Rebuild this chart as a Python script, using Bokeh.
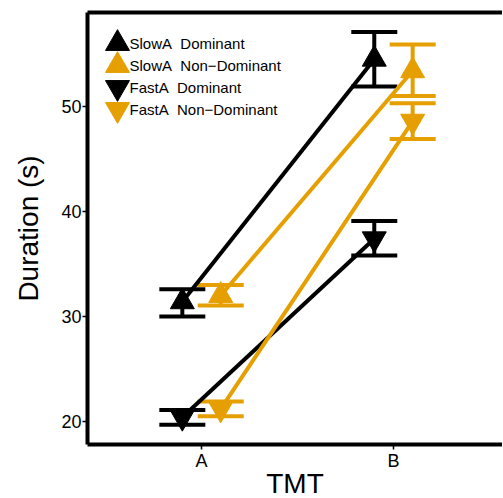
from bokeh.plotting import figure
from bokeh.models import (ColumnDataSource, Whisker, TeeHead, LinearAxis, FixedTicker, Range1d)
from bokeh.core.properties import value
from bokeh.embed import file_html
from bokeh.resources import INLINE

# ---- data ----
tmt_labels = ["A", "B"]
tmt_pos = [1, 2]
y_ticks = [20, 30, 40, 50]

series_names = ["SlowA\u00a0 Dominant", "SlowA\u00a0 Non\u2212Dominant", "FastA\u00a0 Dominant", "FastA\u00a0 Non\u2212Dominant"]
series_colors = ["black", "#E69F00", "black", "#E69F00"]
series_markers = ["triangle", "triangle", "inverted_triangle", "inverted_triangle"]
series_dodge = [-0.1, 0.1, -0.1, 0.1]

slowa_dom_mean = [31.4, 54.5]
slowa_dom_lower = [30.0, 51.9]
slowa_dom_upper = [32.6, 57.1]

slowa_nondom_mean = [32.0, 53.4]
slowa_nondom_lower = [31.05, 51.0]
slowa_nondom_upper = [33.0, 55.9]

fasta_dom_mean = [20.4, 37.4]
fasta_dom_lower = [19.7, 35.8]
fasta_dom_upper = [21.1, 39.1]

fasta_nondom_mean = [21.2, 48.6]
fasta_nondom_lower = [20.5, 46.9]
fasta_nondom_upper = [21.9, 50.3]

means = [slowa_dom_mean, slowa_nondom_mean, fasta_dom_mean, fasta_nondom_mean]
lowers = [slowa_dom_lower, slowa_nondom_lower, fasta_dom_lower, fasta_nondom_lower]
uppers = [slowa_dom_upper, slowa_nondom_upper, fasta_dom_upper, fasta_nondom_upper]

FONT = "Liberation Sans"
FRAME_W = 415
FRAME_H = 432

p = figure(frame_width=FRAME_W, frame_height=FRAME_H, output_backend="svg", toolbar_location=None,
           x_range=Range1d(0.406, 2.568), y_range=Range1d(17.81, 58.95),
           min_border_right=0, min_border_top=12, min_border_left=87, min_border_bottom=0)
p.outline_line_color = None
p.xgrid.visible = False
p.ygrid.visible = False

xax = p.below[0]
yax = p.left[0]

# top border line via an extra axis without ticks or labels
top_axis = LinearAxis(ticker=FixedTicker(ticks=[]), axis_line_width=4, axis_line_color="black",
                      major_tick_line_color=None, minor_tick_line_color=None,
                      major_label_text_font_size="0px", major_tick_out=0, major_tick_in=0,
                      major_label_standoff=0)
p.add_layout(top_axis, "above")

for ax in (xax, yax):
    ax.axis_line_width = 4
    ax.axis_line_color = "black"
    ax.major_tick_line_width = 1.5
    ax.major_tick_out = 5
    ax.major_tick_in = 0
    ax.minor_tick_line_color = None
    ax.major_label_text_font = FONT
    ax.major_label_text_font_size = "18px"
    ax.major_label_text_color = "black"
    ax.major_label_standoff = 1
    ax.axis_label_text_font = FONT
    ax.axis_label_text_font_style = "normal"
    ax.axis_label_text_font_size = "28px"
    ax.axis_label_text_color = "black"

xax.ticker = FixedTicker(ticks=tmt_pos)
xax.major_label_overrides = {1: tmt_labels[0], 2: tmt_labels[1]}
xax.axis_label = "TMT"
xax.axis_label_standoff = -6
yax.ticker = FixedTicker(ticks=y_ticks)
yax.axis_label = "Duration (s)"
yax.axis_label_standoff = 14

for i in range(4):
    xs = [x + series_dodge[i] for x in tmt_pos]
    src = ColumnDataSource(dict(x=xs, y=means[i], lo=lowers[i], hi=uppers[i]))
    p.line("x", "y", source=src, line_color=series_colors[i], line_width=4)
    w = Whisker(source=src, base="x", upper="hi", lower="lo", dimension="height",
                line_color=series_colors[i], line_width=4,
                upper_head=TeeHead(size=46, line_width=4, line_color=series_colors[i]),
                lower_head=TeeHead(size=46, line_width=4, line_color=series_colors[i]))
    p.add_layout(w)
    p.scatter("x", "y", source=src, marker=series_markers[i], size=24,
              fill_color=series_colors[i], line_color=series_colors[i])

# legend drawn in a pixel-based extra range (frame pixels, y from top)
p.extra_x_ranges["px"] = Range1d(0, FRAME_W)
p.extra_y_ranges["px"] = Range1d(FRAME_H, 0)
leg_x = [30] * 4
leg_y = [31, 53, 75, 97]
for i in range(4):
    p.scatter([leg_x[i]], [leg_y[i]], x_range_name="px", y_range_name="px",
              marker=series_markers[i], size=24,
              fill_color=series_colors[i], line_color=series_colors[i])
p.text([leg_x[0] + 12] * 4, leg_y, text=series_names, x_range_name="px", y_range_name="px",
       text_font=value(FONT), text_font_size="15px", text_baseline="middle",
       text_align="left", text_color="black")

open("out.html", "w").write(file_html(p, INLINE))
